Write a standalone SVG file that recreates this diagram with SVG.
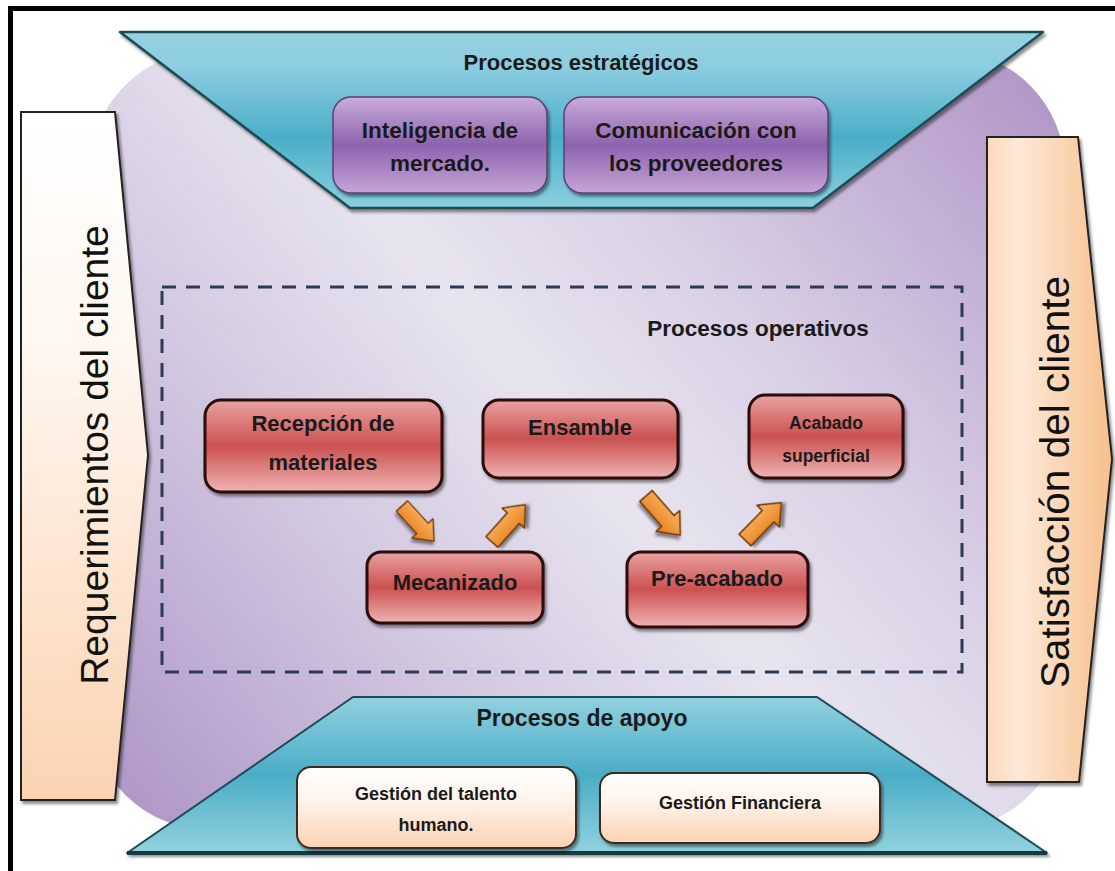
<svg xmlns="http://www.w3.org/2000/svg" width="1115" height="871" viewBox="0 0 1115 871">
<defs>
  <linearGradient id="bgPurple" gradientUnits="userSpaceOnUse" x1="120" y1="830" x2="1040" y2="60">
    <stop offset="0" stop-color="#ad94c6"/>
    <stop offset="0.3" stop-color="#d3c9e1"/>
    <stop offset="0.5" stop-color="#e7e4ef"/>
    <stop offset="0.68" stop-color="#d8cfe4"/>
    <stop offset="1" stop-color="#b094c5"/>
  </linearGradient>
  <linearGradient id="tealTop" x1="0" y1="0" x2="0" y2="1">
    <stop offset="0" stop-color="#95d1e1"/>
    <stop offset="0.2" stop-color="#8ccde0"/>
    <stop offset="0.6" stop-color="#4aaec7"/>
    <stop offset="1" stop-color="#8bd0de"/>
  </linearGradient>
  <linearGradient id="tealBot" x1="0" y1="0" x2="0" y2="1">
    <stop offset="0" stop-color="#92d0df"/>
    <stop offset="0.5" stop-color="#4aadc6"/>
    <stop offset="1" stop-color="#93d2df"/>
  </linearGradient>
  <linearGradient id="purpleBox" x1="0" y1="0" x2="0" y2="1">
    <stop offset="0" stop-color="#caaddb"/>
    <stop offset="0.5" stop-color="#8d63ae"/>
    <stop offset="1" stop-color="#c6a5d8"/>
  </linearGradient>
  <linearGradient id="redBox" x1="0" y1="0" x2="0" y2="1">
    <stop offset="0" stop-color="#e9a2a2"/>
    <stop offset="0.5" stop-color="#cb5150"/>
    <stop offset="1" stop-color="#efb3b3"/>
  </linearGradient>
  <linearGradient id="whiteBox" x1="0" y1="0" x2="0" y2="1">
    <stop offset="0" stop-color="#ffffff"/>
    <stop offset="0.4" stop-color="#fff4ec"/>
    <stop offset="1" stop-color="#fad2b2"/>
  </linearGradient>
  <linearGradient id="leftArrowFill" x1="0" y1="0" x2="0" y2="1">
    <stop offset="0" stop-color="#ffffff"/>
    <stop offset="0.35" stop-color="#fff6ef"/>
    <stop offset="1" stop-color="#fbd3b1"/>
  </linearGradient>
  <linearGradient id="rightArrowFill" x1="0" y1="0" x2="1" y2="0">
    <stop offset="0" stop-color="#fdd9bb"/>
    <stop offset="0.25" stop-color="#fde9d9"/>
    <stop offset="1" stop-color="#f8bf8d"/>
  </linearGradient>
  <linearGradient id="orangeArrow" x1="0" y1="0" x2="0" y2="1">
    <stop offset="0" stop-color="#fbb865"/>
    <stop offset="1" stop-color="#e57c1c"/>
  </linearGradient>
  <filter id="shadow" x="-10%" y="-10%" width="125%" height="130%">
    <feDropShadow dx="2" dy="3" stdDeviation="1.5" flood-color="#000" flood-opacity="0.45"/>
  </filter>
  <path id="blockArrow" d="M0,-8 L32,-8 L32,-15 L50,0 L32,15 L32,8 L0,8 Z"/>
  <style>
    .lbl { font-family: "Liberation Sans", Arial, sans-serif; font-weight: bold; fill: #1a1a1a; text-anchor: middle; }
    .side { font-family: "Liberation Sans", Arial, sans-serif; fill: #111; text-anchor: middle; }
    .trap { stroke: #1e4b56; stroke-width: 2.5; stroke-linejoin: round; }
    .pbox { fill: url(#purpleBox); stroke: #5d3e7a; stroke-width: 1.5; }
    .rbox { fill: url(#redBox); stroke: #2a0808; stroke-width: 3; }
    .wbox { fill: url(#whiteBox); stroke: #3b2b22; stroke-width: 2; }
    .arr { fill: url(#orangeArrow); stroke: #6a3606; stroke-width: 1.5; stroke-linejoin: round; }
  </style>
</defs>

<rect x="0" y="0" width="1115" height="871" fill="#ffffff"/>

<!-- frame -->
<g id="frame">
  <line x1="8" y1="8.5" x2="1115" y2="8.5" stroke="#000" stroke-width="5"/>
  <line x1="10.5" y1="6" x2="10.5" y2="871" stroke="#000" stroke-width="5"/>
</g>

<!-- background rounded shape -->
<g id="background">
  <rect x="90" y="50" width="975" height="780" rx="120" ry="120" fill="url(#bgPurple)"/>
</g>

<!-- strategic processes -->
<g id="estrategicos">
  <polygon class="trap" points="120,32 1043,32 813,208 350,208" fill="url(#tealTop)" filter="url(#shadow)"/>
  <text class="lbl" x="581" y="70" font-size="22">Procesos estratégicos</text>
</g>
<g id="inteligencia">
  <rect class="pbox" x="333" y="97" width="214" height="96" rx="18" filter="url(#shadow)"/>
  <text class="lbl" x="440" y="138" font-size="22.5">Inteligencia de</text>
  <text class="lbl" x="440" y="171" font-size="22.5">mercado.</text>
</g>
<g id="comunicacion">
  <rect class="pbox" x="564" y="97" width="264" height="96" rx="18" filter="url(#shadow)"/>
  <text class="lbl" x="696" y="138" font-size="22.5">Comunicación con</text>
  <text class="lbl" x="696" y="171" font-size="22.5">los proveedores</text>
</g>

<!-- left arrow -->
<g id="requerimientos">
  <polygon points="21,112 115,112 148,455 115,800 21,800" fill="url(#leftArrowFill)" stroke="#222" stroke-width="2" filter="url(#shadow)"/>
  <text class="side" transform="translate(108,455) rotate(-90)" font-size="39">Requerimientos del cliente</text>
</g>

<!-- right arrow -->
<g id="satisfaccion">
  <polygon points="987,137 1078,137 1112,459 1079,782 987,782" fill="url(#rightArrowFill)" stroke="#222" stroke-width="2" filter="url(#shadow)"/>
  <text class="side" transform="translate(1069,482) rotate(-90)" font-size="40.5">Satisfacción del cliente</text>
</g>

<!-- operative processes -->
<g id="operativos">
  <rect x="162" y="287" width="800" height="385" fill="none" stroke="#2b3a57" stroke-width="3" stroke-dasharray="14 10"/>
  <text class="lbl" x="758" y="336" font-size="22.5">Procesos operativos</text>
</g>
<g id="recepcion">
  <rect class="rbox" x="205" y="400" width="237" height="92" rx="16" filter="url(#shadow)"/>
  <text class="lbl" x="323" y="431" font-size="22">Recepción de</text>
  <text class="lbl" x="323" y="470" font-size="22">materiales</text>
</g>
<g id="ensamble">
  <rect class="rbox" x="483" y="400" width="195" height="78" rx="16" filter="url(#shadow)"/>
  <text class="lbl" x="580" y="435" font-size="22">Ensamble</text>
</g>
<g id="acabado">
  <rect class="rbox" x="749" y="395" width="154" height="83" rx="16" filter="url(#shadow)"/>
  <text class="lbl" x="826" y="429" font-size="17.5">Acabado</text>
  <text class="lbl" x="826" y="462" font-size="17.5">superficial</text>
</g>
<g id="mecanizado">
  <rect class="rbox" x="367" y="552" width="176" height="71" rx="14" filter="url(#shadow)"/>
  <text class="lbl" x="455" y="590" font-size="22">Mecanizado</text>
</g>
<g id="preacabado">
  <rect class="rbox" x="627" y="552" width="181" height="75" rx="14" filter="url(#shadow)"/>
  <text class="lbl" x="717" y="586" font-size="22">Pre-acabado</text>
</g>

<!-- connectors -->
<g id="connectors">
  <use href="#blockArrow" class="arr" transform="translate(402,506) rotate(47.6) scale(0.95)" filter="url(#shadow)"/>
  <use href="#blockArrow" class="arr" transform="translate(492,542) rotate(-48.3) scale(1)" filter="url(#shadow)"/>
  <use href="#blockArrow" class="arr" transform="translate(646,496) rotate(48.8) scale(1.04)" filter="url(#shadow)"/>
  <use href="#blockArrow" class="arr" transform="translate(745,540) rotate(-45.8) scale(1.04)" filter="url(#shadow)"/>
</g>

<!-- support processes -->
<g id="apoyo">
  <polygon points="353,697 817,697 1047,853 127,853" fill="url(#tealBot)" stroke="#1e4b56" stroke-width="2" stroke-linejoin="round" filter="url(#shadow)"/>
  <line x1="127" y1="853" x2="1047" y2="853" stroke="#173a42" stroke-width="4"/>
  <text class="lbl" x="582" y="726" font-size="23">Procesos de apoyo</text>
</g>
<g id="talento">
  <rect class="wbox" x="297" y="767" width="279" height="81" rx="14" filter="url(#shadow)"/>
  <text class="lbl" x="436" y="800" font-size="18">Gestión del talento</text>
  <text class="lbl" x="436" y="831" font-size="18">humano.</text>
</g>
<g id="financiera">
  <rect class="wbox" x="600" y="773" width="280" height="70" rx="14" filter="url(#shadow)"/>
  <text class="lbl" x="740" y="809" font-size="18">Gestión Financiera</text>
</g>
</svg>
